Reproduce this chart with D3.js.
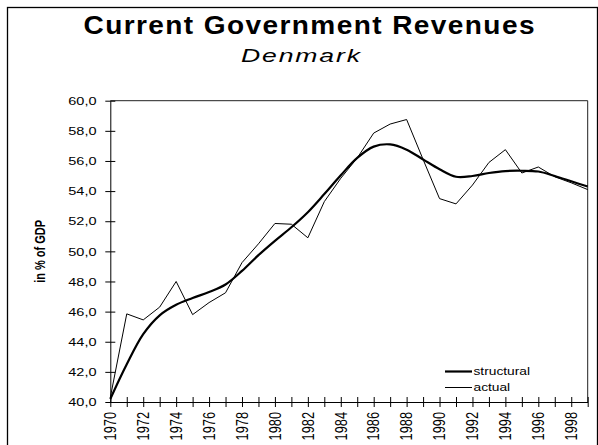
<!DOCTYPE html>
<html>
<head>
<meta charset="utf-8">
<script src="https://cdn.jsdelivr.net/npm/d3@7"></script>
<style>
  html, body { margin: 0; padding: 0; background: #fff; }
  svg { display: block; font-family: "Liberation Sans", Arial, sans-serif; }
</style>
</head>
<body>
<svg id="chart" width="598" height="445"></svg>
<script>
// Current government revenues, Denmark, in % of GDP
const years = d3.range(1970, 2000);
const actual = [
  40.3, 45.85, 45.45, 46.3, 48.0, 45.8, 46.6, 47.25, 49.25, 50.5,
  51.85, 51.8, 50.9, 53.3, 54.85, 56.2, 57.85, 58.45, 58.75, 56.1,
  53.5, 53.15, 54.4, 55.9, 56.75, 55.2, 55.6, 54.95, 54.55, 54.1
];
const structural = [
  40.2, 42.5, 44.5, 45.75, 46.45, 46.9, 47.3, 47.8, 48.7, 49.75,
  50.7, 51.6, 52.6, 53.8, 55.05, 56.2, 56.95, 57.1, 56.75, 56.1,
  55.45, 54.95, 55.0, 55.2, 55.33, 55.35, 55.3, 55.0, 54.65, 54.3
];
const yTicks = [40, 42, 44, 46, 48, 50, 52, 54, 56, 58, 60];
const xLabelYears = d3.range(1970, 1999, 2);
const seriesNames = ["structural", "actual"];

const svg = d3.select("#chart");
const SX = 1.25; // horizontal glyph stretch used for axis and legend text

const plot = { left: 110.3, right: 587.7, top: 100.7, bottom: 402 };
const x = d3.scaleLinear().domain([1970, 1999]).range([plot.left, plot.right]);
const y = d3.scaleLinear().domain([40, 60]).range([plot.bottom, plot.top]);

const fmt = d3.formatLocale({ decimal: ",", thousands: ".", grouping: [3], currency: ["", ""] }).format(".1f");

// outer frame
svg.append("rect")
  .attr("x", 7.5).attr("y", 7.5).attr("width", 590).attr("height", 460)
  .attr("fill", "none").attr("stroke", "#000").attr("stroke-width", 1.3);

// plot frame (top and right edges)
svg.append("path")
  .attr("d", `M${plot.left},${plot.top}H${plot.right}V${plot.bottom}`)
  .attr("fill", "none").attr("stroke", "#222").attr("stroke-width", 1);

// titles
function stretchedText(cx, cy, txt, size, weight, style, width, sx) {
  const g = svg.append("g").attr("transform", `translate(${cx},${cy}) scale(${sx},1)`);
  const t = g.append("text")
    .attr("text-anchor", "middle")
    .attr("font-size", size)
    .attr("font-weight", weight)
    .attr("font-style", style)
    .attr("fill", "#000")
    .text(txt);
  if (width) t.attr("textLength", width / sx).attr("lengthAdjust", "spacing");
  return t;
}
stretchedText(309, 33.7, "Current Government Revenues", 25.5, "bold", "normal", 451, 1.1);
stretchedText(300.5, 62, "Denmark", 19, "normal", "italic", 119, 1.4);

// y axis
const yAxis = d3.axisLeft(y).tickValues(yTicks).tickSizeInner(5).tickSizeOuter(0).tickFormat("");
const ya = svg.append("g").attr("transform", `translate(${plot.left},0)`).call(yAxis);
ya.select(".domain").attr("stroke", "#000");
ya.selectAll(".tick line").attr("x1", -5).attr("x2", 5).attr("stroke", "#000");
svg.append("g").selectAll("g").data(yTicks).join("g")
  .attr("transform", d => `translate(96.5,${y(d)}) scale(${SX},1)`)
  .append("text")
  .attr("text-anchor", "end").attr("dy", "0.36em")
  .attr("font-size", 11.6).attr("fill", "#000")
  .text(d => fmt(d));

// x axis
const xAxis = d3.axisBottom(x).tickValues(years).tickSizeOuter(0).tickFormat("");
const xa = svg.append("g").attr("transform", `translate(0,${plot.bottom})`).call(xAxis);
xa.select(".domain").attr("stroke", "#000");
xa.selectAll(".tick line").attr("y1", -5).attr("y2", 5).attr("stroke", "#000");
svg.append("g").selectAll("g").data(xLabelYears).join("g")
  .attr("transform", d => `translate(${x(d)},${plot.bottom + 10}) scale(${SX},1) rotate(-90)`)
  .append("text")
  .attr("text-anchor", "end").attr("dy", "0.36em")
  .attr("font-size", 12.8).attr("fill", "#000")
  .text(d => d);

// y axis title
svg.append("g")
  .attr("transform", `translate(40,${(plot.top + plot.bottom) / 2}) scale(${SX},1) rotate(-90)`)
  .append("text")
  .attr("text-anchor", "middle").attr("dy", "0.36em")
  .attr("font-size", 11).attr("font-weight", "bold").attr("fill", "#000")
  .text("in % of GDP");

// series lines
const lineSmooth = d3.line().x((d, i) => x(years[i])).y(d => y(d)).curve(d3.curveCatmullRom.alpha(0.5));
const lineStraight = d3.line().x((d, i) => x(years[i])).y(d => y(d));

svg.append("path").datum(actual)
  .attr("d", lineStraight)
  .attr("fill", "none").attr("stroke", "#000").attr("stroke-width", 1)
  .attr("stroke-linejoin", "miter");
svg.append("path").datum(structural)
  .attr("d", lineSmooth)
  .attr("fill", "none").attr("stroke", "#000").attr("stroke-width", 2.2);

// legend
const legend = svg.append("g");
const legendRows = [
  { name: seriesNames[0], w: 2.2, yy: 371.5 },
  { name: seriesNames[1], w: 1, yy: 387.5 }
];
legendRows.forEach(r => {
  legend.append("line")
    .attr("x1", 445).attr("x2", 472).attr("y1", r.yy).attr("y2", r.yy)
    .attr("stroke", "#000").attr("stroke-width", r.w);
  legend.append("g").attr("transform", `translate(473.5,${r.yy}) scale(${SX},1)`)
    .append("text").attr("dy", "0.36em")
    .attr("font-size", 11).attr("fill", "#000")
    .text(r.name);
});
</script>
</body>
</html>
